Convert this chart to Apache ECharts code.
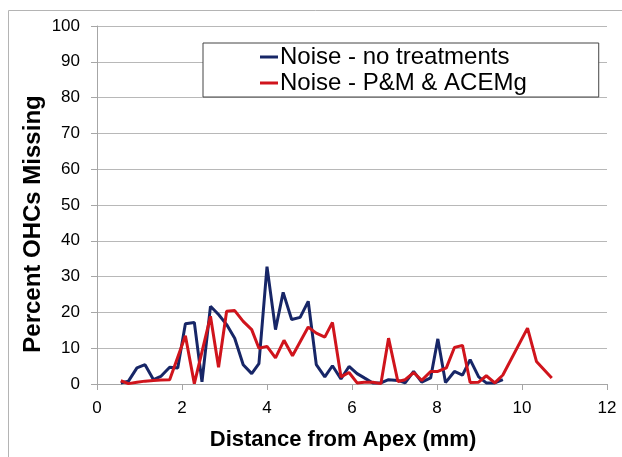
<!DOCTYPE html>
<html>
<head>
<meta charset="utf-8">
<script src="https://cdn.jsdelivr.net/npm/echarts@6/dist/echarts.min.js"></script>
<style>
  html, body { margin: 0; padding: 0; background: #fff; }
  #chart { width: 622px; height: 457px; }
</style>
</head>
<body>
<div id="chart"></div>
<script>
  // distance from apex (mm) / percent OHCs missing
  const noTreatX = [0.56, 0.74, 0.94, 1.13, 1.33, 1.5, 1.71, 1.9, 2.08, 2.29, 2.47, 2.67, 2.86, 3.05, 3.24, 3.44, 3.64, 3.81,
    4.0, 4.2, 4.38, 4.58, 4.78, 4.97, 5.16, 5.36, 5.54, 5.74, 5.93, 6.12, 6.29, 6.49, 6.68, 6.86, 7.08, 7.25, 7.45, 7.64,
    7.85, 8.02, 8.2, 8.41, 8.6, 8.78, 8.98, 9.16, 9.36, 9.55]
  const noTreatY = [0.3, 0.8, 4.5, 5.4, 1.2, 2.1, 4.7, 4.5, 16.8, 17.2, 0.6, 21.7, 19.4, 16.6, 12.8, 5.4, 2.9, 5.7,
    32.8, 15.2, 25.6, 18, 18.6, 23.1, 5.4, 2, 5.1, 1.4, 4.9, 2.9, 1.7, 0.3, 0.3, 1.2, 1, 0.3, 3.5, 0.5,
    1.7, 12.6, 0.4, 3.5, 2.5, 6.8, 2, 0.3, 0.3, 1.2]

  const pmX = [0.56, 0.74, 0.94, 1.13, 1.33, 1.5, 1.71, 2.08, 2.29, 2.67, 2.86, 3.05, 3.24, 3.44, 3.64, 3.81, 4.0, 4.2,
    4.4, 4.6, 4.79, 4.97, 5.16, 5.36, 5.54, 5.74, 5.93, 6.12, 6.29, 6.49, 6.68, 6.86, 7.08, 7.25, 7.45, 7.64, 7.85,
    8.02, 8.22, 8.41, 8.6, 8.78, 8.98, 9.16, 9.36, 9.55, 10.13, 10.34, 10.7]
  const pmY = [0.9, 0.1, 0.5, 0.8, 1.0, 1.1, 1.2, 13.5, 0.1, 18.9, 4.7, 20.3, 20.5, 17.5, 15.2, 10, 10.5, 7.3,
    12.2, 7.9, 12, 15.9, 14.2, 13.1, 17.2, 2, 3.2, 0.3, 0.5, 0.5, 0.1, 12.8, 0.7, 1.2, 3.2, 1, 3.5,
    3.5, 4.5, 10.2, 10.8, 0.4, 0.5, 2.3, 0.3, 2.5, 15.6, 6.3, 1.7]

  const seriesNames = ['Noise - no treatments', 'Noise - P&M & ACEMg']
  const xTitle = 'Distance from Apex (mm)'
  const yTitle = 'Percent OHCs Missing'

  const pairs = (xs, ys) => xs.map((x, i) => [x, ys[i]])
  const font = '"Liberation Sans", Arial, sans-serif'

  const chart = echarts.init(document.getElementById('chart'))
  chart.setOption({
    animation: false,
    graphic: [{
      type: 'rect',
      shape: {x: 8.5, y: 10.5, width: 800, height: 600},
      style: {fill: 'none', stroke: '#b4b4b4', lineWidth: 1},
      silent: true
    }],
    grid: {
      left: 97,
      right: 15,
      top: 26,
      bottom: 73,
      outerBoundsMode: 'none',
      containLabel: false
    },
    legend: {
      orient: 'vertical',
      left: 203,
      top: 43,
      padding: [1, 72, 1, 57],
      itemGap: 0,
      itemWidth: 18,
      itemHeight: 3,
      icon: 'rect',
      backgroundColor: '#fff',
      borderColor: '#444',
      borderWidth: 1,
      borderRadius: 0,
      textStyle: {
        fontFamily: font,
        fontSize: 24,
        lineHeight: 26,
        color: '#000',
        padding: [0, 0, 0, -3]
      },
      data: seriesNames
    },
    xAxis: {
      type: 'value',
      min: 0,
      max: 12,
      interval: 2,
      name: xTitle,
      nameLocation: 'middle',
      nameGap: 45,
      nameTextStyle: {
        fontFamily: font,
        fontSize: 22,
        fontWeight: 'bold',
        color: '#000',
        padding: [0, 18, 0, 0]
      },
      axisLine: {lineStyle: {color: '#a6a6a6', width: 1}},
      axisTick: {show: true, inside: false, length: 6, lineStyle: {color: '#a6a6a6'}},
      axisLabel: {fontFamily: font, fontSize: 17, color: '#000', margin: 16},
      splitLine: {show: false}
    },
    yAxis: {
      type: 'value',
      min: 0,
      max: 100,
      interval: 10,
      name: yTitle,
      nameLocation: 'middle',
      nameGap: 52,
      nameMoveOverlap: false,
      nameRotate: 90,
      nameTextStyle: {
        fontFamily: font,
        fontSize: 24,
        fontWeight: 'bold',
        color: '#000',
        padding: [0, 38, 0, 0]
      },
      axisLine: {show: true, lineStyle: {color: '#a6a6a6', width: 1}},
      axisTick: {show: true, inside: false, length: 6, lineStyle: {color: '#a6a6a6'}},
      axisLabel: {fontFamily: font, fontSize: 17, color: '#000', margin: 17},
      splitLine: {lineStyle: {color: '#b8b8b8', width: 1}}
    },
    series: [
      {
        name: seriesNames[0],
        type: 'line',
        data: pairs(noTreatX, noTreatY),
        showSymbol: false,
        itemStyle: {color: '#172667'},
        lineStyle: {color: '#172667', width: 3},
        z: 3
      },
      {
        name: seriesNames[1],
        type: 'line',
        data: pairs(pmX, pmY),
        showSymbol: false,
        itemStyle: {color: '#d0141c'},
        lineStyle: {color: '#d0141c', width: 3},
        z: 4
      }
    ]
  })
</script>
</body>
</html>
